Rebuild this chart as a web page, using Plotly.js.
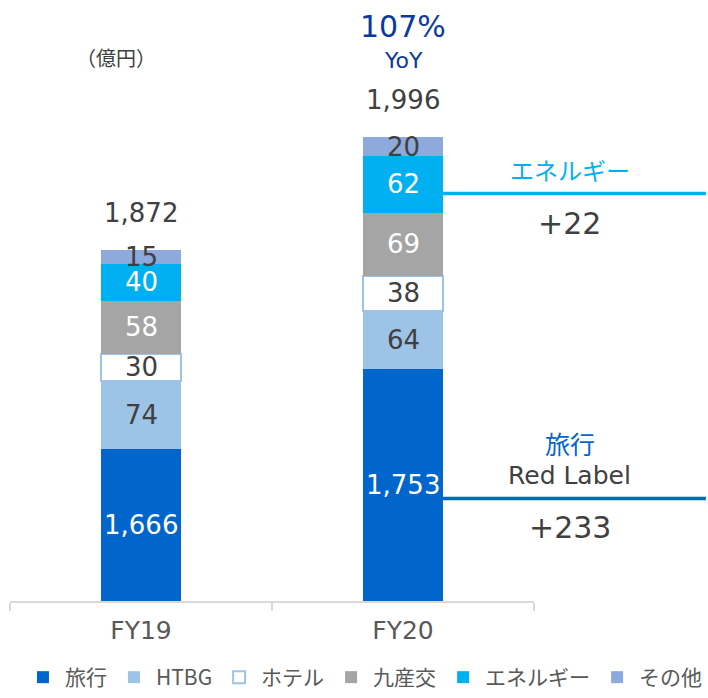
<!DOCTYPE html>
<html>
<head>
<meta charset="utf-8">
<script src="https://cdn.plot.ly/plotly-3.0.1.min.js"></script>
<style>html,body{margin:0;padding:0;background:#fff;}#chart{width:708px;height:698px;}</style>
</head>
<body>
<div id="chart"></div>
<script>
// ---- data ----
const categories = ['FY19', 'FY20'];
const seriesNames = ['旅行', 'HTBG', 'ホテル', '九産交', 'エネルギー', 'その他'];
const travel   = [1666, 1753];
const htbg     = [74, 64];
const hotel    = [30, 38];
const kyusanko = [58, 69];
const energy   = [40, 62];
const other    = [15, 20];
const totalLabels = ['1,872', '1,996'];
const yoyLabel = '107%';
const diffEnergy = '+22';
const diffTravel = '+233';

// ---- styles ----
const colors = ['#0066CC', '#9DC3E6', '#FFFFFF', '#A5A5A5', '#00B0F0', '#8EA9DB'];
const labelColors = ['#FFFFFF', '#404040', '#404040', '#FFFFFF', '#FFFFFF', '#404040'];
const numFont = 'DejaVu Sans, Noto Sans CJK JP, sans-serif';
const cjkFont = 'Noto Sans CJK JP, DejaVu Sans, sans-serif';
const yMin = 1500, yMax = 2156;

const series = [travel, htbg, hotel, kyusanko, energy, other];

const traces = series.map((vals, i) => ({
  type: 'bar',
  name: seriesNames[i],
  x: categories,
  y: vals,
  marker: {
    color: colors[i],
    line: i === 2 ? {color: '#9DC3E6', width: 2} : {width: 0}
  },
  hoverinfo: 'skip'
}));

const annotations = [];
const fmt = v => v.toLocaleString('en-US');
const tops = categories.map(() => 0);
function ann(o) {
  return Object.assign({showarrow: false, xanchor: 'center', yanchor: 'middle'}, o);
}
series.forEach((vals, i) => {
  vals.forEach((v, j) => {
    const base = tops[j];
    const lo = Math.max(base, yMin);
    const hi = base + v;
    annotations.push(ann({
      x: categories[j], y: (lo + hi) / 2, xref: 'x', yref: 'y',
      text: fmt(v),
      font: {family: numFont, size: 26, color: labelColors[i]}
    }));
    tops[j] = hi;
  });
});
categories.forEach((c, j) => {
  annotations.push(ann({
    x: c, y: tops[j], xref: 'x', yref: 'y', yshift: 37,
    text: totalLabels[j],
    font: {family: numFont, size: 26, color: '#404040'}
  }));
});
annotations.push(ann({
  x: categories[1], y: tops[1], xref: 'x', yref: 'y', yshift: 111,
  text: yoyLabel,
  font: {family: numFont, size: 30, color: '#0B3A9E'}
}));
annotations.push(ann({
  x: categories[1], y: tops[1], xref: 'x', yref: 'y', yshift: 77,
  text: 'YoY',
  font: {family: numFont, size: 22, color: '#0B3A9E'}
}));
// unit
annotations.push(ann({
  x: 0.2023, y: 0.9035, xref: 'paper', yref: 'paper',
  text: '（億円）',
  font: {family: cjkFont, size: 20, color: '#404040'}
}));
// right side callouts
annotations.push(ann({
  x: 1.0687, y: 0.7188, xref: 'paper', yref: 'paper',
  text: seriesNames[4],
  font: {family: cjkFont, size: 24, color: '#00B0F0'}
}));
annotations.push(ann({
  x: 1.0687, y: 0.628, xref: 'paper', yref: 'paper',
  text: diffEnergy,
  font: {family: numFont, size: 30, color: '#404040'}
}));
annotations.push(ann({
  x: 1.0687, y: 0.2629, xref: 'paper', yref: 'paper',
  text: seriesNames[0],
  font: {family: cjkFont, size: 25, color: '#0066CC'}
}));
annotations.push(ann({
  x: 1.0687, y: 0.2088, xref: 'paper', yref: 'paper',
  text: 'Red Label',
  font: {family: numFont, size: 25, color: '#404040'}
}));
annotations.push(ann({
  x: 1.0687, y: 0.1231, xref: 'paper', yref: 'paper',
  text: diffTravel,
  font: {family: numFont, size: 30, color: '#404040'}
}));

const shapes = [
  {type: 'line', xref: 'paper', yref: 'paper', x0: 0.826, x1: 1.328, y0: 0.678, y1: 0.678,
   line: {color: '#00B0F0', width: 3.5}},
  {type: 'line', xref: 'paper', yref: 'paper', x0: 0.826, x1: 1.328, y0: 0.1706, y1: 0.1706,
   line: {color: '#0066CC', width: 3.5}}
];

const layout = {
  width: 708, height: 698,
  margin: {l: 10, r: 174, t: 0, b: 97, autoexpand: false},
  paper_bgcolor: '#fff', plot_bgcolor: '#fff',
  barmode: 'stack',
  bargap: 0.695,
  showlegend: true,
  legend: {
    orientation: 'h', xref: 'paper', yref: 'paper',
    x: 1.332, xanchor: 'right', y: -0.1614, yanchor: 'bottom',
    traceorder: 'normal',
    font: {family: cjkFont, size: 21, color: '#595959'},
    itemwidth: 34
  },
  xaxis: {
    type: 'category', range: [-0.5, 1.5],
    showline: true, linecolor: '#D9D9D9', linewidth: 2,
    ticks: 'outside', tickson: 'boundaries', ticklen: 8, tickcolor: '#D9D9D9', tickwidth: 2,
    tickfont: {family: numFont, size: 25, color: '#595959'},
    ticklabelstandoff: 6,
    showgrid: false, zeroline: false, fixedrange: true
  },
  yaxis: {
    range: [yMin, yMax], visible: false, showgrid: false, zeroline: false, fixedrange: true
  },
  annotations: annotations,
  shapes: shapes,
  hovermode: false
};

Plotly.newPlot('chart', traces, layout, {displayModeBar: false, staticPlot: true});
</script>
</body>
</html>
